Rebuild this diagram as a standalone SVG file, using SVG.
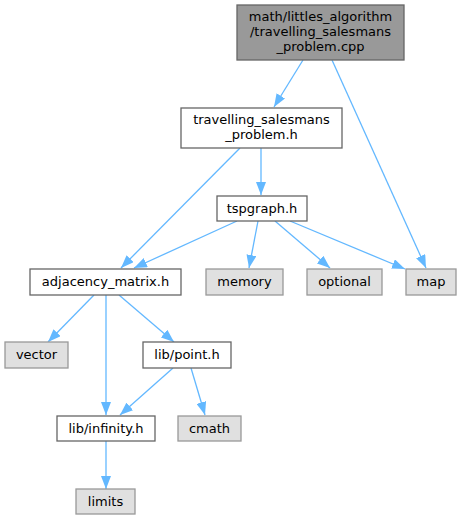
<svg xmlns="http://www.w3.org/2000/svg" width="462" height="520" viewBox="0 0 462 520">
<defs>
<style>
text{font-family:"DejaVu Sans",sans-serif;font-size:13px;fill:#000;text-anchor:middle}
.n rect{fill:#fff;stroke:#666;stroke-width:1.3}
.g rect{fill:#e0e0e0;stroke:#999;stroke-width:1.3}
.r rect{fill:#999;stroke:#666;stroke-width:1.3}
.e line{stroke:#63b8ff;stroke-width:1.3;fill:none}
</style>
<marker id="a" viewBox="0 0 13 10" refX="13" refY="5" markerWidth="13" markerHeight="10" markerUnits="userSpaceOnUse" orient="auto">
<path d="M0,0 L13,5 L0,10 Z" fill="#63b8ff"/>
</marker>
</defs>
<rect width="462" height="520" fill="#fff"/>
<g id="edges" class="e">
<line x1="303" y1="60" x2="274" y2="107" marker-end="url(#a)"/>
<line x1="332" y1="60" x2="426" y2="268" marker-end="url(#a)"/>
<line x1="240" y1="148" x2="121" y2="268" marker-end="url(#a)"/>
<line x1="261" y1="148" x2="261" y2="195" marker-end="url(#a)"/>
<line x1="237" y1="221" x2="134" y2="268" marker-end="url(#a)"/>
<line x1="258" y1="221" x2="249" y2="268" marker-end="url(#a)"/>
<line x1="275" y1="221" x2="330" y2="268" marker-end="url(#a)"/>
<line x1="290" y1="221" x2="405" y2="269" marker-end="url(#a)"/>
<line x1="94" y1="295" x2="48" y2="342" marker-end="url(#a)"/>
<line x1="106" y1="295" x2="106" y2="415" marker-end="url(#a)"/>
<line x1="119" y1="295" x2="174" y2="342" marker-end="url(#a)"/>
<line x1="173" y1="368" x2="120" y2="415" marker-end="url(#a)"/>
<line x1="191" y1="368" x2="205" y2="415" marker-end="url(#a)"/>
<line x1="106" y1="441" x2="106" y2="489" marker-end="url(#a)"/>
</g>
<g id="root" class="r"><rect x="237" y="5" width="167" height="55"/>
<text x="320.5" y="21">math/littles_algorithm</text>
<text x="320.5" y="36">/travelling_salesmans</text>
<text x="320.5" y="51">_problem.cpp</text></g>
<g id="tsp_h" class="n"><rect x="181" y="108" width="161" height="40"/>
<text x="261.5" y="124">travelling_salesmans</text>
<text x="261.5" y="139">_problem.h</text></g>
<g id="tspgraph" class="n"><rect x="217" y="196" width="90" height="25"/>
<text x="262" y="213">tspgraph.h</text></g>
<g id="adjacency" class="n"><rect x="30" y="269" width="151" height="26"/>
<text x="105.5" y="286">adjacency_matrix.h</text></g>
<g id="memory" class="g"><rect x="206" y="269" width="77" height="26"/>
<text x="244.5" y="286">memory</text></g>
<g id="optional" class="g"><rect x="307" y="269" width="75" height="26"/>
<text x="344.5" y="286">optional</text></g>
<g id="map" class="g"><rect x="406" y="269" width="50" height="26"/>
<text x="431" y="286">map</text></g>
<g id="vector" class="g"><rect x="5" y="342" width="63" height="26"/>
<text x="36.5" y="359">vector</text></g>
<g id="point" class="n"><rect x="143" y="342" width="88" height="26"/>
<text x="187" y="359">lib/point.h</text></g>
<g id="infinity" class="n"><rect x="57" y="416" width="98" height="25"/>
<text x="106" y="433">lib/infinity.h</text></g>
<g id="cmath" class="g"><rect x="178" y="416" width="63" height="25"/>
<text x="209.5" y="433">cmath</text></g>
<g id="limits" class="g"><rect x="76" y="489" width="59" height="25"/>
<text x="105.5" y="506">limits</text></g>
</svg>
